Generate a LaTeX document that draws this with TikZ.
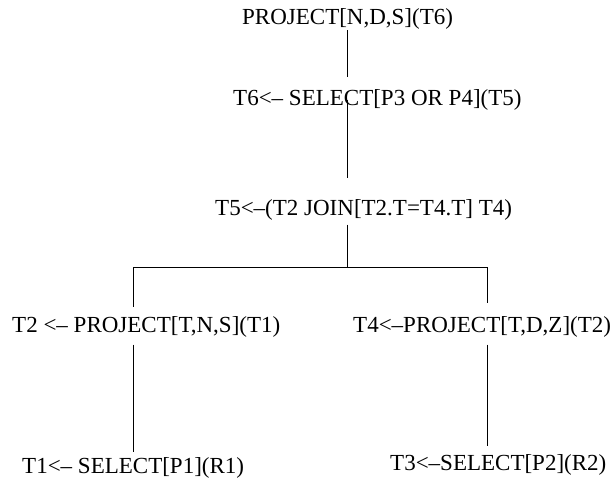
\documentclass[tikz,border=0pt]{standalone}
\usepackage{fontspec}
\setmainfont{Liberation Serif}
\tikzset{
  op/.style={inner sep=0pt,anchor=base west,font=\fontsize{23}{27}\selectfont},
  link/.style={line width=0.9pt}
}
\begin{document}
\begin{tikzpicture}[x=1pt,y=-1pt]
  \useasboundingbox (0,0) rectangle (612,484);
  % operators of the plan
  \node[op] (proj) at (242,25) {PROJECT[N,D,S](T6)};
  \node[op] (sel) at (233,106) {T6<– SELECT[P3 OR P4](T5)};
  \node[op] (join) at (215,215) {T5<–(T2 JOIN[T2.T=T4.T] T4)};
  \node[op] (projl) at (12,332) {T2 <– PROJECT[T,N,S](T1)};
  \node[op] (projr) at (353,332) {T4<–PROJECT[T,D,Z](T2)};
  \node[op] (sell) at (22,473) {T1<– SELECT[P1](R1)};
  \node[op] (selr) at (390,470) {T3<–SELECT[P2](R2)};
  % branch points
  \coordinate (mid) at (347.5,267);
  \coordinate (lb) at (133,267);
  \coordinate (rb) at (487,267);
  \begin{scope}[link]
    \draw[shorten >=12.5pt] (mid |- proj.south) -- (mid |- sel.north);
    \draw[shorten >=20.5pt] (mid |- sel.center) -- (mid |- join.north);
    \draw[shorten <=4.5pt] (mid |- join.south) -- (mid);
    \draw (lb) -- (rb);
    \draw[shorten >=8.5pt] (lb) -- (lb |- projl.north);
    \draw[shorten >=12.5pt] (rb) -- (rb |- projr.north);
    \draw[shorten <=7.5pt,shorten >=4.5pt] (lb |- projl.south) -- (lb |- sell.north);
    \draw[shorten <=7.5pt,shorten >=7.5pt] (rb |- projr.south) -- (rb |- selr.north);
  \end{scope}
\end{tikzpicture}
\end{document}
